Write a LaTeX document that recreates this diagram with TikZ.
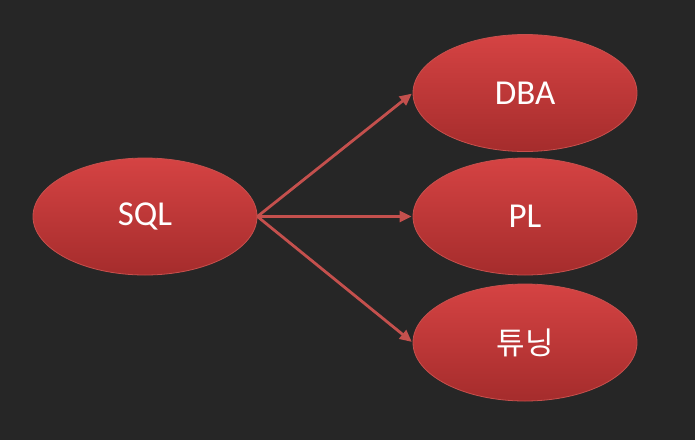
\documentclass[tikz,border=0pt]{standalone}
\usepackage{fontspec}
\setmainfont{Carlito}
\newfontfamily\krfont{Noto Sans CJK KR}
\usetikzlibrary{shapes.geometric,arrows.meta}
\definecolor{bg}{HTML}{262626}
\definecolor{elltop}{HTML}{D54343}
\definecolor{ellbot}{HTML}{A52C2C}
\definecolor{ellline}{HTML}{C8504D}
\definecolor{arr}{HTML}{C4504D}
\tikzset{
  ell/.style={ellipse, minimum width=224pt, minimum height=117pt, inner sep=0pt,
    top color=elltop, bottom color=ellbot, draw=ellline, line width=0.8pt,
    text=white, font=\fontsize{35}{40}\selectfont},
  conn/.style={draw=arr, line width=2.8pt, -{Triangle[length=12pt,width=11pt]}, shorten >=1pt}
}
\begin{document}
\begin{tikzpicture}[x=1pt,y=-1pt]
\fill[bg] (0,0) rectangle (695,440);
\useasboundingbox (0,0) rectangle (695,440);
\node[ell] (sql) at (145,216.5) {SQL};
\node[ell] (dba) at (525,93) {DBA};
\node[ell] (pl) at (525,216.5) {PL};
\node[ell] (tn) at (525,342.5) {\krfont\fontsize{31}{36}\selectfont 튜닝};
\draw[conn] (sql.east) -- (dba.west);
\draw[conn] (sql.east) -- (pl.west);
\draw[conn] (sql.east) -- (tn.west);
\end{tikzpicture}
\end{document}
